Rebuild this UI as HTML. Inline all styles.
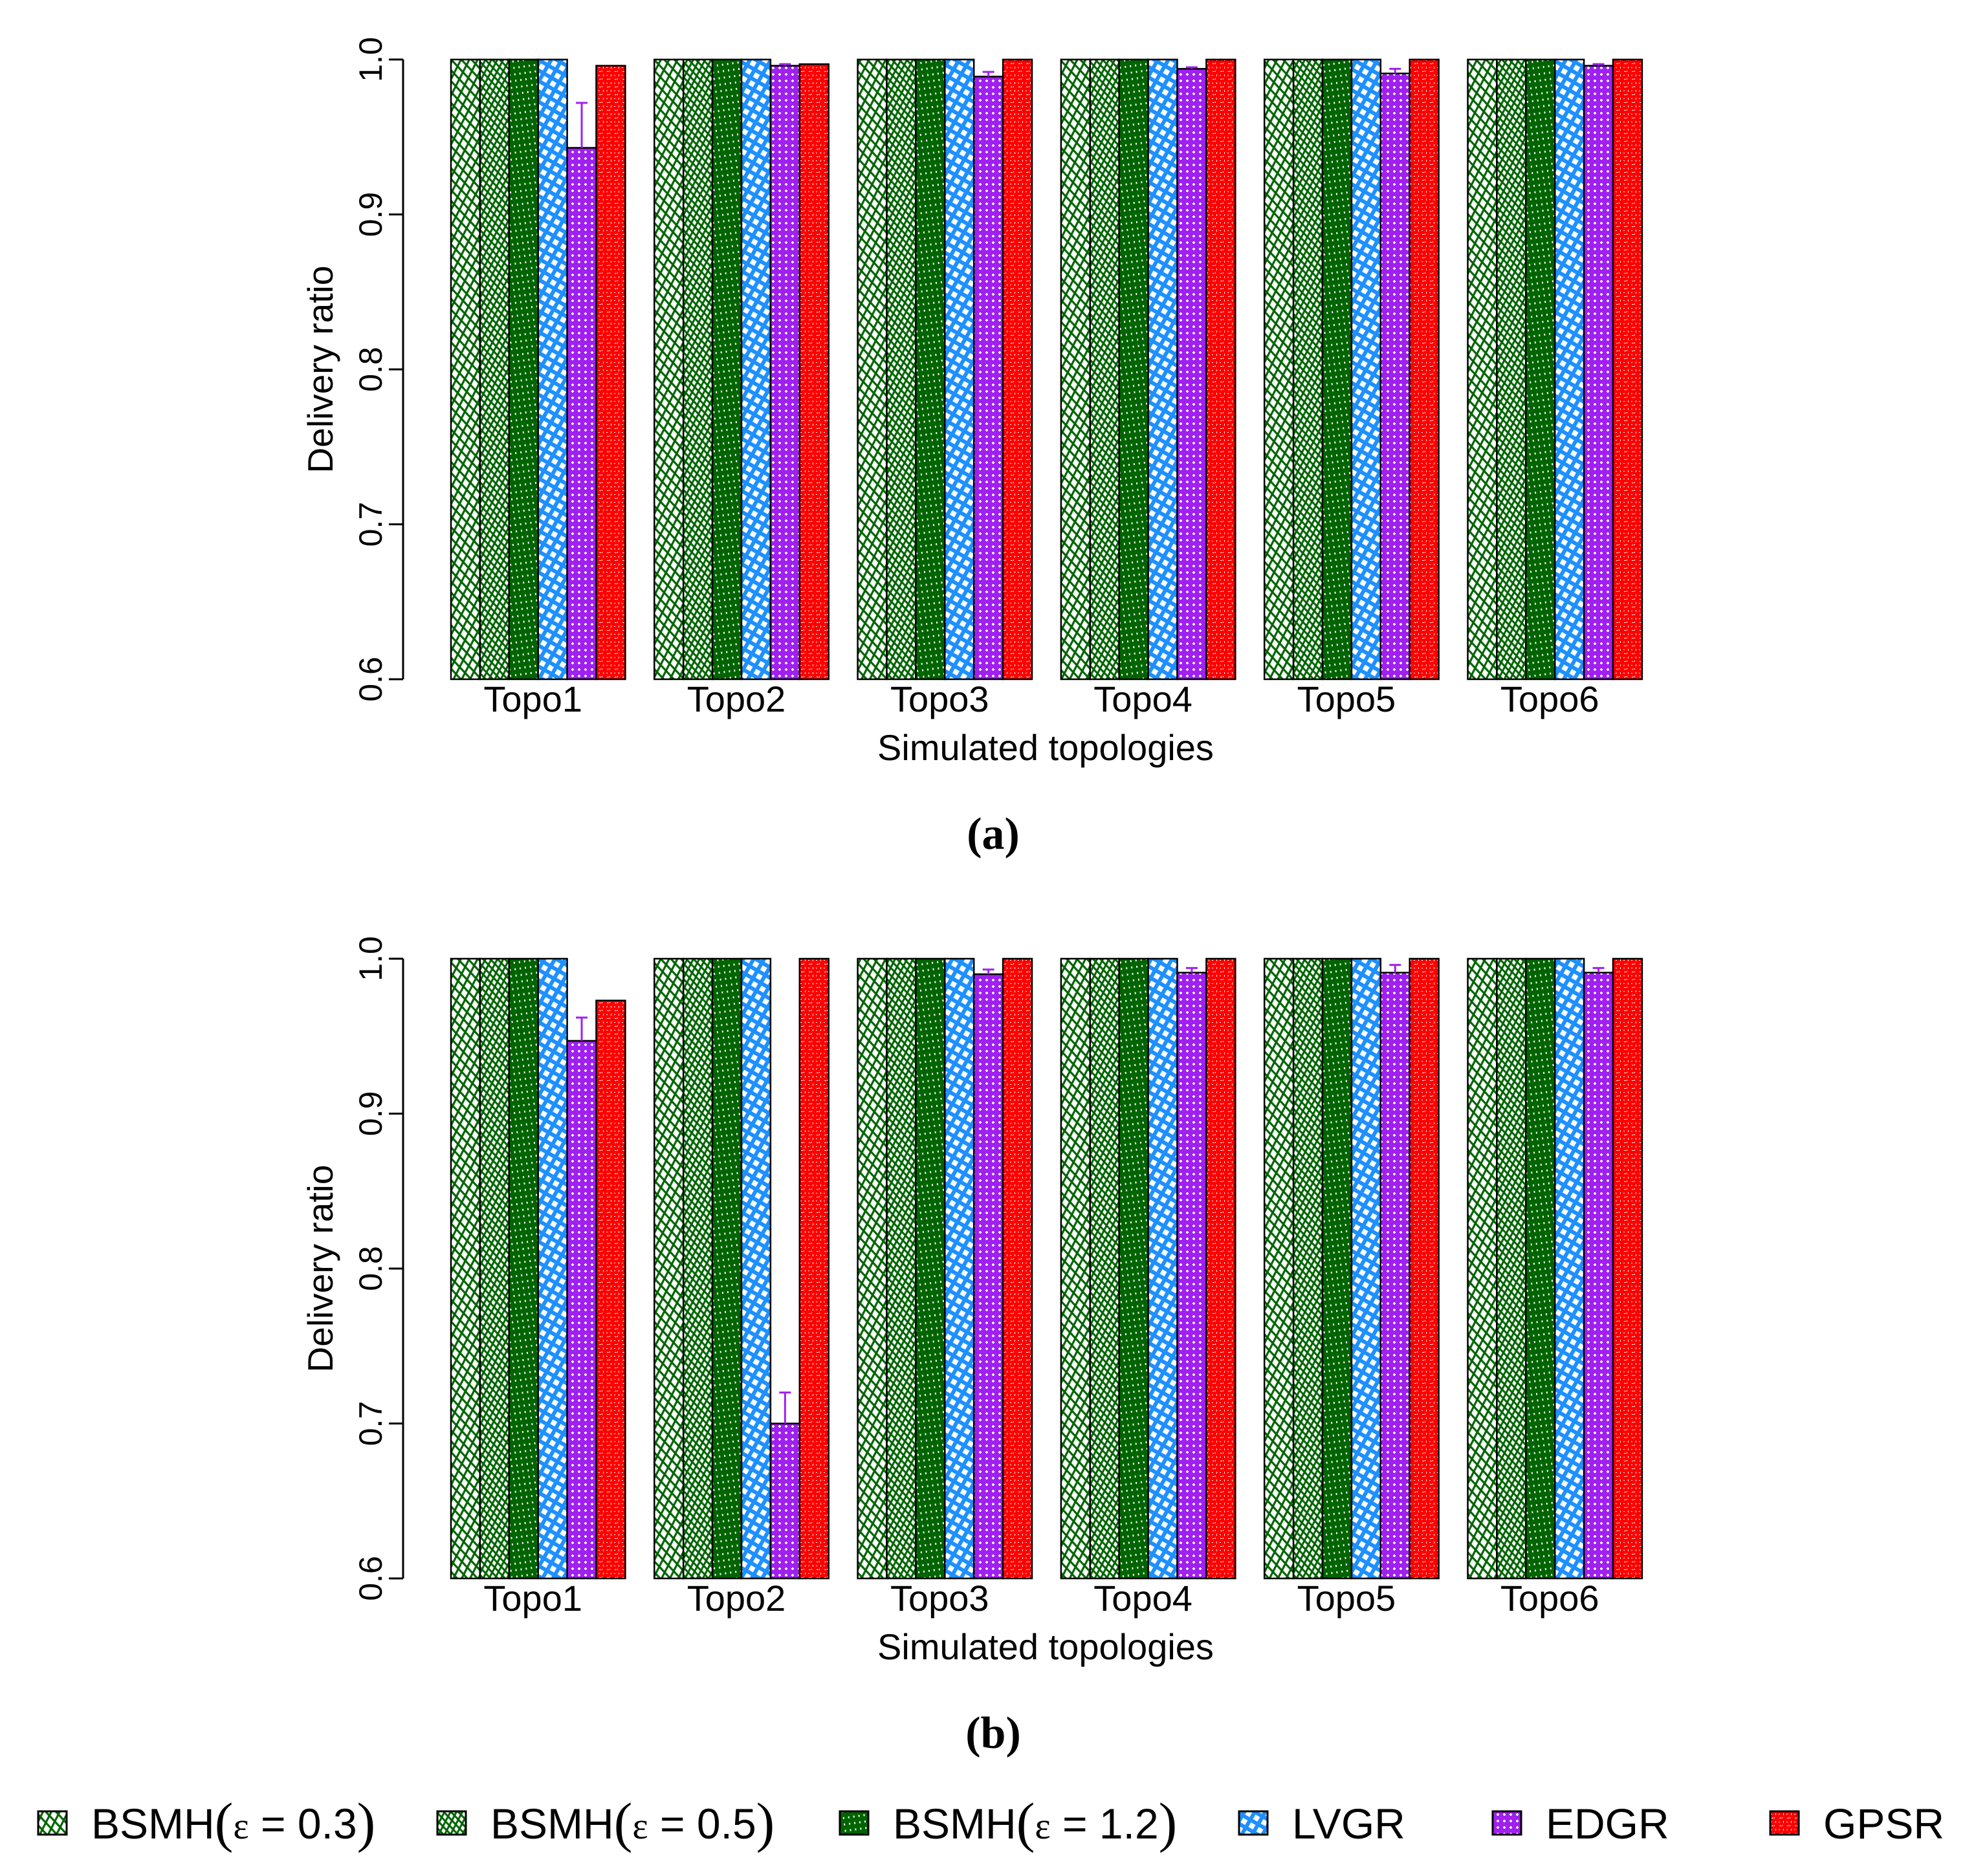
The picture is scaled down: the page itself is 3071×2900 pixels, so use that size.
<!DOCTYPE html>
<html><head><meta charset="utf-8"><style>
html,body{margin:0;padding:0;background:#fff;}
svg{display:block;}
text{font-family:"Liberation Sans",sans-serif;}
.serif{font-family:"Liberation Serif",serif;}
</style></head><body>
<svg id="chart" width="3071" height="2900" viewBox="0 0 3071 2900" xmlns="http://www.w3.org/2000/svg">
<defs>
<pattern id="p0" width="14" height="20" patternUnits="userSpaceOnUse" patternTransform="rotate(-8)">
<rect width="14" height="20" fill="#fff"/>
<path d="M0 20 L14 0 M-7 10 L7 -10 M7 30 L21 10" stroke="#006400" stroke-width="3.2"/>
<path d="M0 0 L14 20 M-7 10 L7 30 M7 -10 L21 10" stroke="#006400" stroke-width="3.2"/>
</pattern>
<pattern id="p1" width="10" height="14" patternUnits="userSpaceOnUse" patternTransform="rotate(-8)">
<rect width="10" height="14" fill="#fff"/>
<path d="M0 14 L10 0 M-5 7 L5 -7 M5 21 L15 7" stroke="#006400" stroke-width="3"/>
<path d="M0 0 L10 14 M-5 7 L5 21 M5 -7 L15 7" stroke="#006400" stroke-width="3"/>
</pattern>
<pattern id="p2" width="8" height="10" patternUnits="userSpaceOnUse" patternTransform="rotate(-8)">
<rect width="8" height="10" fill="#006400"/>
<rect x="3" y="3" width="2" height="3" fill="#fff"/>
</pattern>
<pattern id="p3" width="14" height="14" patternUnits="userSpaceOnUse" patternTransform="rotate(30)">
<rect width="14" height="14" fill="#1e90ff"/>
<rect x="3" y="3" width="8" height="8" fill="#fff"/>
</pattern>
<pattern id="p4" width="10" height="10" patternUnits="userSpaceOnUse">
<rect width="10" height="10" fill="#a020f0"/>
<rect x="4" y="3" width="2" height="4" fill="#fff"/><rect x="3" y="4" width="4" height="2" fill="#fff"/>
</pattern>
<pattern id="p5" width="12" height="12" patternUnits="userSpaceOnUse">
<rect width="12" height="12" fill="#ff0000"/>
<rect x="2" y="2" width="3" height="1" fill="#fff"/><rect x="8" y="7" width="1" height="3" fill="#fff"/>
<rect x="6" y="1" width="1" height="2" fill="#fff"/><rect x="1" y="8" width="2" height="1" fill="#fff"/>
</pattern>
</defs>
<g id="plots"></g>
<g id="legend"></g>
</svg>
<script>
const categories = ["Topo1","Topo2","Topo3","Topo4","Topo5","Topo6"];
const seriesNames = ["BSMH(ε = 0.3)","BSMH(ε = 0.5)","BSMH(ε = 1.2)","LVGR","EDGR","GPSR"];
const yTicks = [0.6,0.7,0.8,0.9,1.0];
const yTickLabels = ["0.6","0.7","0.8","0.9","1.0"];
// panel (a)
const aBsmh03 = [1,1,1,1,1,1];
const aBsmh05 = [1,1,1,1,1,1];
const aBsmh12 = [1,1,1,1,1,1];
const aLvgr = [1,1,1,1,1,1];
const aEdgr = [0.943,0.996,0.989,0.994,0.991,0.996];
const aGpsr = [0.996,0.997,1,1,1,1];
const aEdgrErr = [0.029,0.001,0.003,0.001,0.003,0.001];
// panel (b)
const bBsmh03 = [1,1,1,1,1,1];
const bBsmh05 = [1,1,1,1,1,1];
const bBsmh12 = [1,1,1,1,1,1];
const bLvgr = [1,1,1,1,1,1];
const bEdgr = [0.947,0.700,0.990,0.991,0.991,0.991];
const bGpsr = [0.973,1,1,1,1,1];
const bEdgrErr = [0.015,0.020,0.003,0.003,0.005,0.003];

const NS="http://www.w3.org/2000/svg";
const root=document.getElementById('plots');
function mk(tag,attrs,parent){const e=document.createElementNS(NS,tag);for(const k in attrs)e.setAttribute(k,attrs[k]);(parent||root).appendChild(e);return e;}

const X0=697, BW=44.9, PITCH=BW*7, AXX=623;
function xPos(g,s){return X0+g*PITCH+s*BW;}

function panel(top,series,err,capLabel,pid){
  const yMin=0.6,yMax=1.0, yTop=top, yBot=top+958;
  const yScale=v=>yBot-(v-yMin)/(yMax-yMin)*(yBot-yTop);
  const g=mk('g',{});
  
  
  const ax=mk('path',{d:`M${AXX} ${yScale(yMin)} L${AXX} ${yScale(yMax)}`,stroke:'#000','stroke-width':3,fill:'none'},g);
  
  
  yTicks.forEach((t,i)=>{
    const y=yScale(t);
    const tk=mk('line',{x1:AXX-22,x2:AXX,y1:y,y2:y,stroke:'#000','stroke-width':3},g);
    
    
    const tl=mk('text',{x:0,y:0,'font-size':50,'text-anchor':'middle',transform:`translate(590 ${y}) rotate(-90)`},g);
    tl.textContent=yTickLabels[i];
    
    
  });
  const yt=mk('text',{x:0,y:0,'font-size':55,'text-anchor':'middle',transform:`translate(514 ${(yTop+yBot)/2}) rotate(-90)`},g);
  yt.textContent='Delivery ratio';
  
  
  categories.forEach((c,gi)=>{
    series.forEach((vals,si)=>{
      const y=yScale(vals[gi]);
      const r=mk('rect',{x:xPos(gi,si),y:y,width:BW,height:yBot-y,fill:`url(#p${si})`,stroke:'#000','stroke-width':2.5},g);
      
      
    });
    const ev=series[4][gi], e=err[gi], cx=xPos(gi,4)+BW/2;
    const eb=mk('path',{d:`M${cx} ${yScale(ev)} L${cx} ${yScale(ev+e)} M${cx-9} ${yScale(ev+e)} L${cx+9} ${yScale(ev+e)}`,stroke:'#a020f0','stroke-width':3,fill:'none'},g);
    
    
    const cl=mk('text',{x:xPos(gi,3)-8,y:yBot+50,'font-size':56,'text-anchor':'middle'},g);
    cl.textContent=c;
    
    
  });
  const xt=mk('text',{x:1616,y:yBot+125,'font-size':56,'text-anchor':'middle'},g);
  xt.textContent='Simulated topologies';
  
  
  const cp=mk('text',{x:1535,y:yBot+262,'font-size':70,'text-anchor':'middle','font-weight':'bold','class':'serif'},g);
  cp.textContent=capLabel;
  
  
}
panel(92,[aBsmh03,aBsmh05,aBsmh12,aLvgr,aEdgr,aGpsr],aEdgrErr,'(a)','a');
panel(1482,[bBsmh03,bBsmh05,bBsmh12,bLvgr,bEdgr,bGpsr],bEdgrErr,'(b)','b');

const leg=document.getElementById('legend');
const legSw=[59,676,1298,1915,2307,2736];
seriesNames.forEach((n,i)=>{
  const sw=mk('rect',{x:legSw[i],y:2800,width:44,height:36,fill:`url(#p${i})`,stroke:'#000','stroke-width':3},leg);
  
  
  const t=mk('text',{x:legSw[i]+82,y:2842,'font-size':66},leg);
  if(i<3){
    const m=n.match(/BSMH\(ε = (.*)\)/);
    t.innerHTML=`BSMH<tspan class="serif" font-size="86" dy="4">(</tspan><tspan class="serif" font-size="58" dy="-4">ε</tspan> = ${m[1]}<tspan class="serif" font-size="86" dy="4">)</tspan>`;
  } else t.textContent=n;
  
  
});
</script>
</body></html>
